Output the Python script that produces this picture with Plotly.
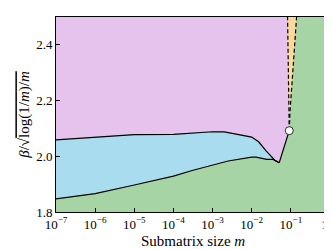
import plotly.graph_objects as go

# ---- data ----
lower_m = [1e-7, 1e-6, 1e-5, 1e-4, 3e-4, 1e-3, 2.5e-3, 1e-2, 1.3e-2, 2.4e-2, 3.5e-2, 5.05e-2]
lower_b = [1.847, 1.866, 1.897, 1.929, 1.949, 1.968, 1.983, 1.997, 1.997, 1.989, 1.989, 1.977]

upper_m = [1e-7, 1e-6, 1e-5, 1e-4, 1e-3, 2e-3, 1e-2, 1.5e-2, 2.3e-2, 3.9e-2, 5.05e-2]
upper_b = [2.059, 2.068, 2.078, 2.079, 2.088, 2.0875, 2.069, 2.052, 2.020, 1.986, 1.977]

dip_m, dip_b = 5.05e-2, 1.977
pt_m, pt_b = 0.091, 2.092

dash_left_m = [0.091, 0.0859, 0.0824]
dash_left_b = [2.092, 2.337, 2.5]
dash_right_m = [0.091, 0.0948, 0.1165, 0.14]
dash_right_b = [2.092, 2.157, 2.337, 2.5]

m_min, m_max = 1e-7, 0.82
b_min, b_max = 1.8, 2.5

xtick_vals = [1e-7, 1e-6, 1e-5, 1e-4, 1e-3, 1e-2, 1e-1, 1e0]
xtick_text = ["10<sup>\u22127</sup>", "10<sup>\u22126</sup>", "10<sup>\u22125</sup>", "10<sup>\u22124</sup>",
              "10<sup>\u22123</sup>", "10<sup>\u22122</sup>", "10<sup>\u22121</sup>", "10<sup>0</sup>"]
ytick_vals = [1.8, 2.0, 2.2, 2.4]

x_title = "Submatrix size <i>m</i>"
y_title = "<i>\u03b2</i>/\u221a<span style='text-decoration:overline'>log(1/<i>m</i>)/<i>m</i></span>"

GREEN = "#A7D4A5"
BLUE = "#A8DCEE"
PINK = "#E6C3EC"
ORANGE = "#FDD99C"

fig = go.Figure()

fig.add_trace(go.Scatter(x=[m_min, m_max, m_max, m_min], y=[b_min, b_min, b_max, b_max],
                         fill="toself", fillcolor=GREEN, mode="none", hoverinfo="skip"))
fig.add_trace(go.Scatter(x=lower_m + upper_m[::-1], y=lower_b + upper_b[::-1],
                         fill="toself", fillcolor=BLUE, mode="none", hoverinfo="skip"))
pink_x = upper_m + [pt_m] + dash_left_m[1:] + [m_min]
pink_y = upper_b + [pt_b] + dash_left_b[1:] + [b_max]
fig.add_trace(go.Scatter(x=pink_x, y=pink_y, fill="toself", fillcolor=PINK, mode="none", hoverinfo="skip"))
fig.add_trace(go.Scatter(x=dash_left_m + dash_right_m[::-1], y=dash_left_b + dash_right_b[::-1],
                         fill="toself", fillcolor=ORANGE, mode="none", hoverinfo="skip"))

line = dict(color="black", width=1.2)
fig.add_trace(go.Scatter(x=lower_m, y=lower_b, mode="lines", line=line))
fig.add_trace(go.Scatter(x=upper_m, y=upper_b, mode="lines", line=line))
fig.add_trace(go.Scatter(x=[dip_m, pt_m], y=[dip_b, pt_b], mode="lines", line=line))
dline = dict(color="black", width=1.2, dash="4px,2.5px")
fig.add_trace(go.Scatter(x=dash_left_m, y=dash_left_b, mode="lines", line=dline))
fig.add_trace(go.Scatter(x=dash_right_m, y=dash_right_b, mode="lines", line=dline))
fig.add_trace(go.Scatter(x=[pt_m], y=[pt_b], mode="markers",
                         marker=dict(color="white", size=8, line=dict(color="black", width=0.8))))

family = "Liberation Serif, DejaVu Serif, serif"
tick_font = dict(family=family, size=13, color="black")
title_font = dict(family=family, size=15, color="black")
fig.update_layout(
    width=332, height=249,
    margin=dict(l=48, r=10, t=9, b=45),
    paper_bgcolor="white", plot_bgcolor="white",
    showlegend=False, font=tick_font,
)
fig.update_xaxes(type="log", range=[-7, 0], tickvals=xtick_vals, ticktext=xtick_text,
                 ticks="inside", ticklen=4, tickwidth=1, tickcolor="black",
                 showline=True, linecolor="black", linewidth=1, mirror=True,
                 showgrid=False, zeroline=False, automargin=False, tickfont=tick_font)
fig.update_yaxes(range=[b_min, b_max], tickvals=ytick_vals, tickformat=".1f",
                 ticks="inside", ticklen=4, tickwidth=1, tickcolor="black",
                 showline=True, linecolor="black", linewidth=1, mirror=True,
                 showgrid=False, zeroline=False, automargin=False, tickfont=tick_font,
                 title=dict(text=y_title, standoff=2, font=title_font))
fig.add_annotation(text=x_title, xref="paper", yref="paper", x=0.5, y=-0.148,
                   xanchor="center", yanchor="middle", showarrow=False, font=title_font)

fig.write_html("out.html")
